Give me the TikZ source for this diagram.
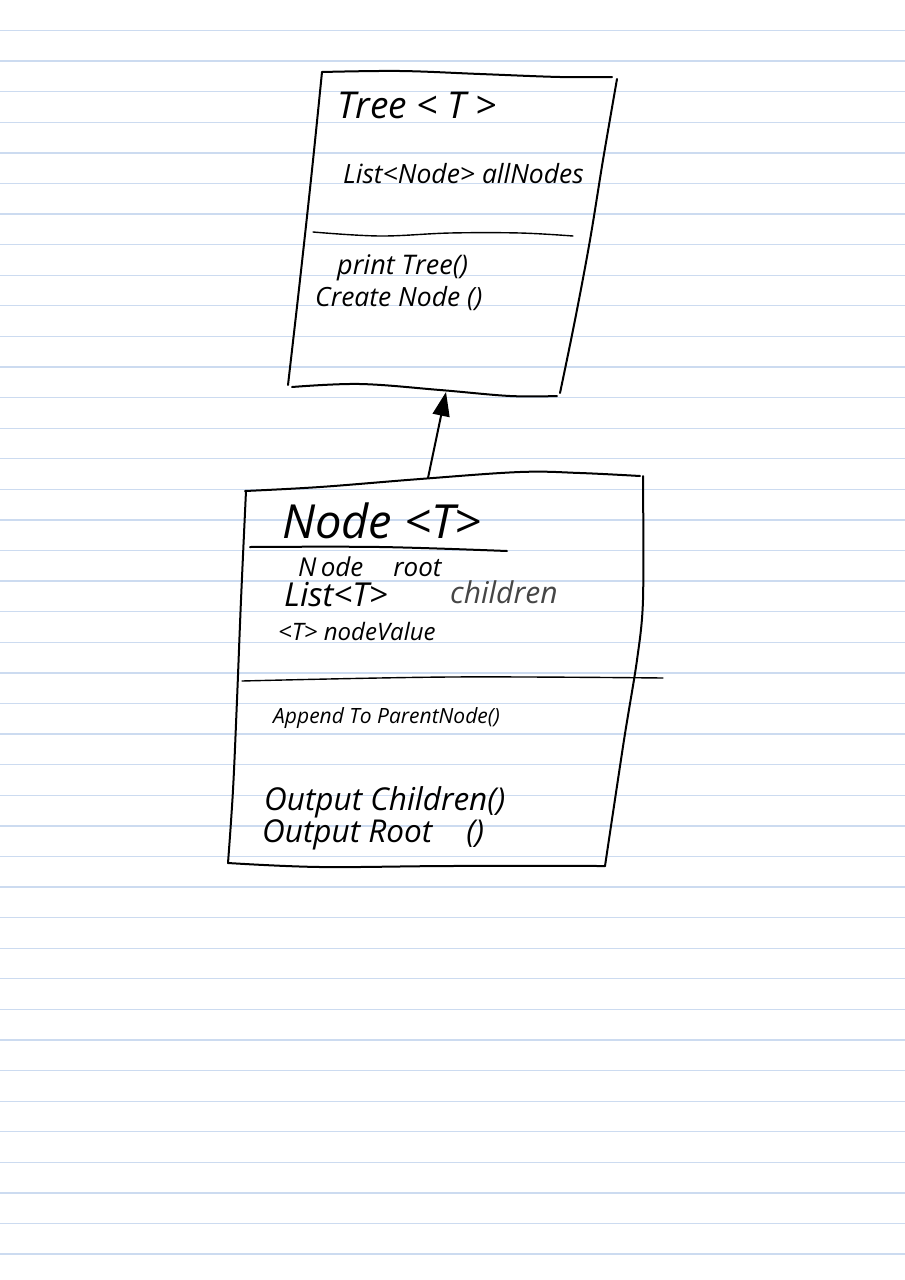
\documentclass[tikz,border=0pt]{standalone}
\usepackage{fontspec}
\usetikzlibrary{arrows.meta}
\newfontfamily\hand{Open Sans}
\tikzset{
  ruled/.style={draw={rgb,255:red,204;green,219;blue,240}, line width=1.3pt},
  ink/.style={draw=black, line width=2pt, line cap=round, line join=round},
  thinink/.style={draw=black, line width=1.4pt, line cap=round},
  hw/.style={anchor=base west, inner sep=0pt, font=\hand\itshape, text=black},
  inherit/.style={-{Triangle[length=24pt,width=17pt]}}
}
\newcommand{\fs}[1]{\fontsize{#1}{#1}\selectfont}
\begin{document}
\begin{tikzpicture}[x=1pt,y=-1pt]
  % paper
  \fill[white] (0,0) rectangle (905,1280);
  \useasboundingbox (0,0) rectangle (905,1280);
  \foreach \k in {0,...,40}
    \draw[ruled] (0,{30.5+30.59*\k}) -- (905,{30.5+30.59*\k});

  % ---- class Tree<T> ----
  \draw[ink] plot[smooth, tension=0.6] coordinates {(322,72) (400,71) (480,74) (560,77) (612,77)};
  \draw[ink] plot[smooth, tension=0.6] coordinates {(617,79) (603,160) (590,240) (575,320) (560,393)};
  \draw[ink] plot[smooth, tension=0.6] coordinates {(322,72) (312,170) (300,280) (288,385)};
  \draw[ink] plot[smooth, tension=0.6] coordinates {(292,387) (360,384) (440,390) (510,396) (557,396)};
  \draw[thinink] plot[smooth, tension=0.6] coordinates {(313,232) (380,236) (450,233) (520,233) (573,236)};

  \node[hw] (treeName) at (337,118) {\fs{37}Tree < T >};
  \node[hw] (treeAttr) at (343,183) {\fs{26.5}List<Node> allNodes};
  \node[hw] (treeOp1) at (337,274) {\fs{27}print Tree()};
  \node[hw] (treeOp2) at (315,306) {\fs{26.5}Create Node ()};

  % ---- class Node<T> ----
  \draw[ink] plot[smooth, tension=0.6] coordinates {(245,491) (320,487) (420,479) (520,472) (580,473) (640,476)};
  \draw[ink] plot[smooth, tension=0.5] coordinates {(643,476) (643,600) (637,660) (624,740) (605,866)};
  \draw[ink] plot[smooth, tension=0.6] coordinates {(246,491) (241,600) (237,700) (233,790) (228,863)};
  \draw[ink] plot[smooth, tension=0.6] coordinates {(228,863) (320,867) (450,866) (605,866)};
  \draw[ink] plot[smooth, tension=0.6] coordinates {(250,547) (380,547) (507,551)};
  \draw[thinink] plot[smooth, tension=0.6] coordinates {(242,681) (450,677) (663,678)};

  \node[hw] (nodeName) at (282,538) {\fs{47}Node <T>};
  \node[hw] (nodeRoot) at (298,576) {\fs{26}N\,ode\hspace{30pt}root};
  \node[hw] (nodeList) at (284,606) {\fs{33}List<T>};
  \node[hw, text={rgb,255:red,70;green,70;blue,70}] (nodeChildren) at (450,603) {\fs{30}children};
  \node[hw] (nodeValue) at (278,640) {\fs{24}<T> nodeValue};
  \node[hw] (nodeOp1) at (273,723) {\fs{21}Append To ParentNode()};
  \node[hw] (nodeOp2) at (264,810) {\fs{31.5}Output Children()};
  \node[hw] (nodeOp3) at (262,842) {\fs{31.5}Output Root\hspace{34pt}()};

  % ---- inheritance ----
  \coordinate (nodeTop) at (428,478);
  \coordinate (treeBottom) at (446,392);
  \draw[ink, inherit] (nodeTop) -- (treeBottom);
\end{tikzpicture}
\end{document}
